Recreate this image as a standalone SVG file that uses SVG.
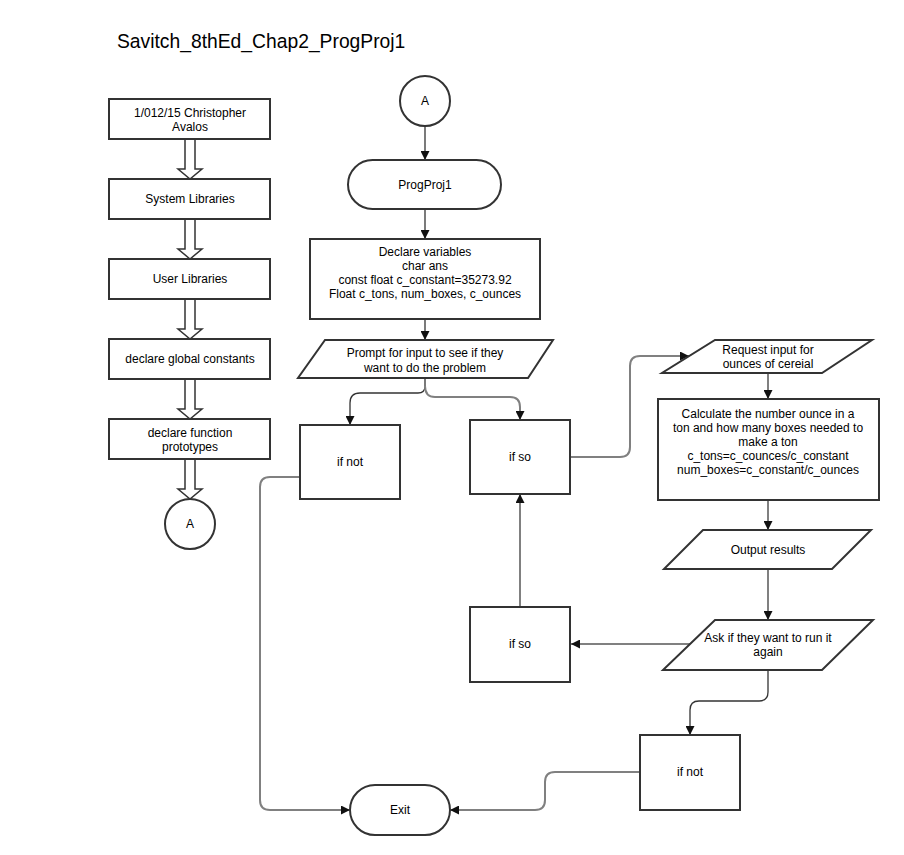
<svg xmlns="http://www.w3.org/2000/svg" width="904" height="855" viewBox="0 0 904 855">
<style>
.n{fill:#fff;stroke:#333;stroke-width:2}
.h{fill:#fff;stroke:#333;stroke-width:1.5}
.t{font-family:"Liberation Sans",Arial,sans-serif;font-size:12px;fill:#000;text-anchor:middle}
.c{fill:none;stroke:#333;stroke-width:1.3}
.g{fill:none;stroke:#808080;stroke-width:2}
</style>
<defs>
<marker id="ah" viewBox="0 0 10 10" refX="10" refY="5" markerWidth="9" markerHeight="9" markerUnits="userSpaceOnUse" orient="auto"><path d="M0,0 L10,5 L0,10 z" fill="#111"/></marker>
</defs>
<rect width="904" height="855" fill="#fff"/>
<text x="117" y="48" style="font-family:'Liberation Sans',Arial,sans-serif;font-size:19.3px;fill:#000">Savitch_8thEd_Chap2_ProgProj1</text>

<g id="connectors">
<polygon class="h" points="185,139 195,139 195,169 202,169 190,179 178,169 185,169"/>
<polygon class="h" points="185,219 195,219 195,249 202,249 190,259 178,249 185,249"/>
<polygon class="h" points="185,299 195,299 195,329 202,329 190,339 178,329 185,329"/>
<polygon class="h" points="185,379 195,379 195,409 202,409 190,419 178,409 185,409"/>
<polygon class="h" points="185,459 195,459 195,489 202,489 190,499 178,489 185,489"/>
<path class="c" d="M425,126 V160" marker-end="url(#ah)"/>
<path class="c" d="M425,209 V239" marker-end="url(#ah)"/>
<path class="c" d="M425,319 V340" marker-end="url(#ah)"/>
<path class="c" d="M425,378 V386 Q425,393 418,393 H360 Q350,393 350,403 V425" marker-end="url(#ah)"/>
<path class="g" d="M425,386 Q425,397 435,397 H510 Q520,397 520,407 V420" marker-end="url(#ah)"/>
<path class="g" d="M570,457 H620 Q630,457 630,447 V366 Q630,356 640,356 H689" marker-end="url(#ah)"/>
<path class="g" d="M768,373 V399" marker-end="url(#ah)"/>
<path class="g" d="M768,500 V530" marker-end="url(#ah)"/>
<path class="g" d="M768,569 V620" marker-end="url(#ah)"/>
<path class="g" d="M690,644 H571" marker-end="url(#ah)"/>
<path class="g" d="M520,607 V494" marker-end="url(#ah)"/>
<path class="c" d="M768,670 V692 Q768,701 759,701 H699 Q690,701 690,710 V735" marker-end="url(#ah)"/>
<path class="g" d="M640,772 H555 Q545,772 545,782 V800 Q545,810 535,810 H450" marker-end="url(#ah)"/>
<path class="g" d="M300,477 H270 Q260,477 260,487 V800 Q260,810 270,810 H350" marker-end="url(#ah)"/>
</g>

<g id="n1"><rect class="n" x="109" y="99" width="161" height="40"/><text class="t" x="190" y="117">1/012/15 Christopher</text><text class="t" x="190" y="131">Avalos</text></g>
<g id="n2"><rect class="n" x="109" y="179" width="161" height="40"/><text class="t" x="190" y="203">System Libraries</text></g>
<g id="n3"><rect class="n" x="109" y="259" width="161" height="40"/><text class="t" x="190" y="283">User Libraries</text></g>
<g id="n4"><rect class="n" x="109" y="339" width="161" height="40"/><text class="t" x="190" y="363">declare global constants</text></g>
<g id="n5"><rect class="n" x="109" y="419" width="161" height="40"/><text class="t" x="190" y="437">declare function</text><text class="t" x="190" y="451">prototypes</text></g>
<g id="n6"><circle class="n" cx="190" cy="524" r="25"/><text class="t" x="190" y="528">A</text></g>

<g id="c1"><circle class="n" cx="425" cy="101" r="25"/><text class="t" x="425" y="105">A</text></g>
<g id="c2"><rect class="n" x="348" y="160" width="153" height="49" rx="24.5"/><text class="t" x="425" y="189">ProgProj1</text></g>
<g id="c3"><rect class="n" x="310" y="239" width="230" height="80"/><text class="t" x="425" y="256">Declare variables</text><text class="t" x="425" y="270">char ans</text><text class="t" x="425" y="284">const float c_constant=35273.92</text><text class="t" x="425" y="298">Float c_tons, num_boxes, c_ounces</text></g>
<g id="c4"><polygon class="n" points="325,340 553,340 528,378 298,378"/><text class="t" x="425" y="357">Prompt for input to see if they</text><text class="t" x="425" y="372">want to do the problem</text></g>
<g id="c5"><rect class="n" x="300" y="425" width="100" height="74"/><text class="t" x="350" y="466">if not</text></g>
<g id="c6"><rect class="n" x="470" y="420" width="100" height="74"/><text class="t" x="520" y="461">if so</text></g>
<g id="c7"><rect class="n" x="470" y="607" width="100" height="75"/><text class="t" x="520" y="648">if so</text></g>
<g id="c8"><rect class="n" x="350" y="785" width="100" height="50" rx="25"/><text class="t" x="400" y="814">Exit</text></g>

<g id="r1"><polygon class="n" points="715,340 872,340 822,373 662,373"/><text class="t" x="768" y="354">Request input for</text><text class="t" x="768" y="368">ounces of cereial</text></g>
<g id="r2"><rect class="n" x="658" y="399" width="221" height="101"/><text class="t" x="768" y="418">Calculate the number ounce in a</text><text class="t" x="768" y="432">ton and how many boxes needed to</text><text class="t" x="768" y="446">make a ton</text><text class="t" x="768" y="460">c_tons=c_counces/c_constant</text><text class="t" x="768" y="474">num_boxes=c_constant/c_ounces</text></g>
<g id="r3"><polygon class="n" points="703,530 871,530 832,569 664,569"/><text class="t" x="768" y="554">Output results</text></g>
<g id="r4"><polygon class="n" points="715,620 873,620 822,670 663,670"/><text class="t" x="768" y="642">Ask if they want to run it</text><text class="t" x="768" y="656">again</text></g>
<g id="r5"><rect class="n" x="640" y="735" width="100" height="75"/><text class="t" x="690" y="776">if not</text></g>
</svg>
